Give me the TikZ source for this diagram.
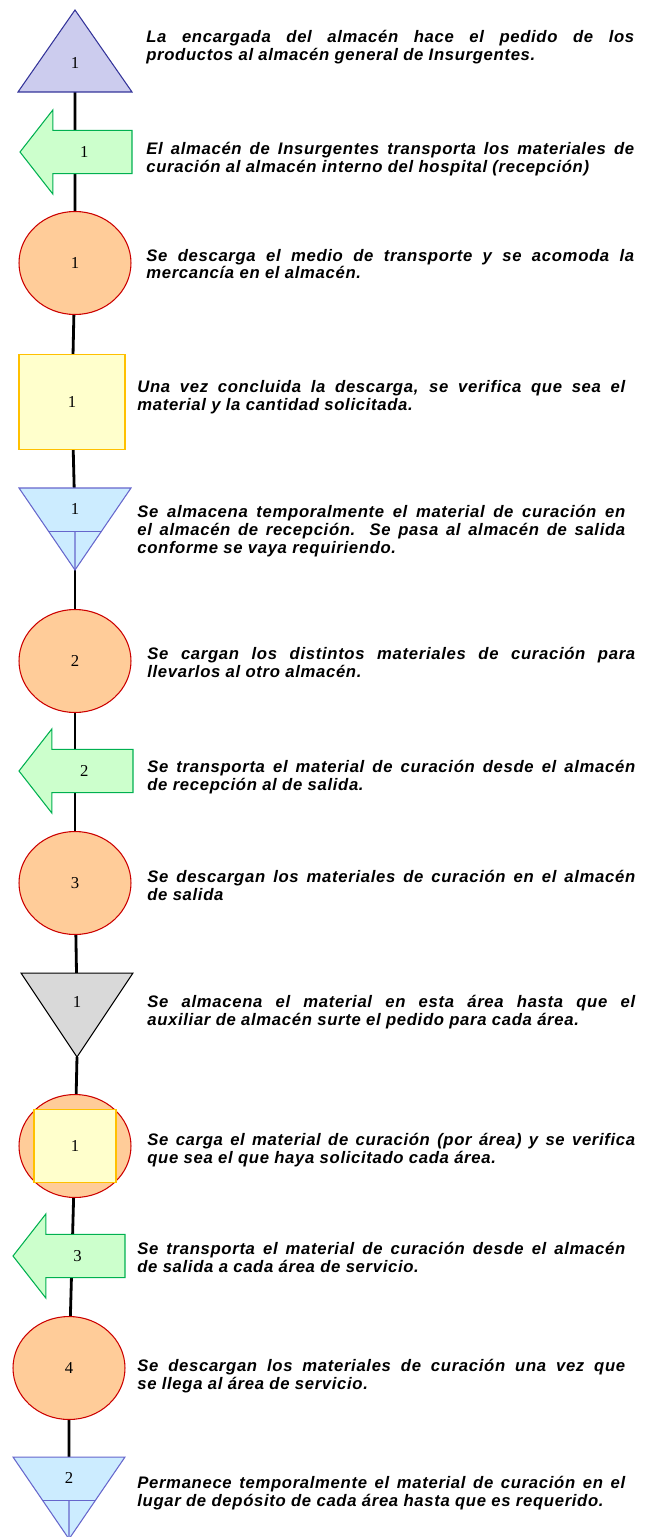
\documentclass[tikz,border=0pt]{standalone}
\usepackage{fontspec}
\setmainfont{Liberation Serif}
\newfontfamily\descfont{Liberation Sans}[LetterSpace=4]
\usetikzlibrary{shapes.geometric,shapes.arrows,calc,backgrounds}
\hyphenpenalty=10000
\exhyphenpenalty=10000

\definecolor{lavanda}{RGB}{204,204,238}
\definecolor{lavandaborde}{RGB}{51,51,153}
\definecolor{verdeclaro}{RGB}{204,255,204}
\definecolor{verdeborde}{RGB}{0,176,80}
\definecolor{durazno}{RGB}{255,204,153}
\definecolor{rojoborde}{RGB}{204,0,0}
\definecolor{amarilloclaro}{RGB}{255,255,204}
\definecolor{amarilloborde}{RGB}{255,192,0}
\definecolor{celeste}{RGB}{204,236,255}
\definecolor{celesteborde}{RGB}{102,102,204}
\definecolor{grisclaro}{RGB}{217,217,217}

\tikzstyle{base} = [inner sep=0pt, outer sep=0pt, line width=0.6pt, font=\fontsize{9.5}{10}\selectfont]
\tikzstyle{operacion} = [base, ellipse, minimum width=2.24cm, minimum height=2.06cm, fill=durazno, draw=rojoborde]
\tikzstyle{inspeccion} = [base, rectangle, minimum width=2.12cm, minimum height=1.9cm, fill=amarilloclaro, draw=amarilloborde]
\tikzstyle{transporte} = [base, single arrow, shape border rotate=180, minimum height=2.24cm, inner ysep=0.31cm, single arrow head extend=0.41cm, single arrow tip angle=104, fill=verdeclaro, draw=verdeborde]
\tikzstyle{pedido} = [base, isosceles triangle, isosceles triangle stretches, shape border rotate=90, minimum width=2.28cm, minimum height=1.64cm, fill=lavanda, draw=lavandaborde]
\tikzstyle{almacen} = [base, isosceles triangle, isosceles triangle stretches, shape border rotate=-90, minimum width=2.24cm, minimum height=1.64cm, fill=celeste, draw=celesteborde]
\tikzstyle{temporal} = [almacen, text depth=0.45cm]
\tikzstyle{deposito} = [almacen, fill=grisclaro, draw=black]
\tikzstyle{desc} = [inner sep=0pt, anchor=west, text width=9.76cm, align=justify, font=\fontsize{9.5}{10.2}\descfont\bfseries\itshape]
\tikzstyle{linea} = [line width=1.6pt]

\begin{document}
\begin{tikzpicture}[x=0.02cm, y=-0.02cm]
        \useasboundingbox (0,0) rectangle (655,1537);

            \node (t1) [pedido, anchor=apex] at (75,10) {1};
            \node (a1) [transporte, anchor=tip] at (20,152) {1};
            \node (c1) [operacion] at (75,263) {1};
            \node (s1) [inspeccion] at (72,402) {1};
            \node (v1) [temporal, anchor=apex] at (75,570) {1};
            \node (c2) [operacion] at (75,661) {2};
            \node (a2) [transporte, anchor=tip, minimum height=2.28cm] at (19,771) {2};
            \node (c3) [operacion] at (75,883) {3};
            \node (g1) [deposito, anchor=apex, minimum height=1.68cm] at (77,1057) {1};
            \node (cs1o) [operacion] at (75,1146) {};
            \node (cs1) [inspeccion, minimum width=1.64cm, minimum height=1.46cm] at (75,1146) {1};
            \node (a3) [transporte, anchor=tip] at (13,1256) {3};
            \node (c4) [operacion] at (69,1368) {4};
            \node (v2) [temporal, anchor=apex] at (69,1539) {2};

            \draw [celesteborde, line width=0.6pt] ($(v1.apex)!0.475!(v1.left corner)$) -- ($(v1.apex)!0.475!(v1.right corner)$);
            \draw [celesteborde, line width=0.6pt] ($(v1.apex)!0.475!(v1.lower side)$) -- (v1.apex);
            \draw [celesteborde, line width=0.6pt] ($(v2.apex)!0.475!(v2.left corner)$) -- ($(v2.apex)!0.475!(v2.right corner)$);
            \draw [celesteborde, line width=0.6pt] ($(v2.apex)!0.475!(v2.lower side)$) -- (v2.apex);

            \begin{scope}[on background layer]
                \draw [linea] (t1) -- (c1);
                \draw [linea] (c1) -- (s1);
                \draw [linea] (s1) -- (v1);
                \draw [linea] (v1.apex) -- (c2);
                \draw [linea] (c2) -- (c3);
                \draw [linea] (c3) -- (g1);
                \draw [linea] (g1.apex) -- (cs1o);
                \draw [linea] (cs1o) -- (c4);
                \draw [linea] (c4) -- (v2);
            \end{scope}

            \node (d1) [desc] at (146,47) {La encargada del almacén hace el pedido de los\linebreak productos al almacén general de Insurgentes.};
            \node (d2) [desc] at (146,159) {El almacén de Insurgentes transporta los materiales de\linebreak curación al almacén interno del hospital (recepción)};
            \node (d3) [desc] at (146,264) {Se descarga el medio de transporte y se acomoda la\linebreak mercancía en el almacén.};
            \node (d4) [desc] at (137,397) {Una vez concluida la descarga, se verifica que sea el\linebreak material y la cantidad solicitada.};
            \node (d5) [desc] at (137,531) {Se almacena temporalmente el material de curación en\linebreak el almacén de recepción. Se pasa al almacén de salida\linebreak conforme se vaya requiriendo.};
            \node (d6) [desc] at (147,662) {Se cargan los distintos materiales de curación para\linebreak llevarlos al otro almacén.};
            \node (d7) [desc] at (147,777) {Se transporta el material de curación desde el almacén\linebreak de recepción al de salida.};
            \node (d8) [desc] at (147,885) {Se descargan los materiales de curación en el almacén\linebreak de salida};
            \node (d9) [desc] at (147,1012) {Se almacena el material en esta área hasta que el\linebreak auxiliar de almacén surte el pedido para cada área.};
            \node (d10) [desc] at (147,1150) {Se carga el material de curación (por área) y se verifica\linebreak que sea el que haya solicitado cada área.};
            \node (d11) [desc] at (137,1257) {Se transporta el material de curación desde el almacén\linebreak de salida a cada área de servicio.};
            \node (d12) [desc] at (137,1376) {Se descargan los materiales de curación una vez que\linebreak se llega al área de servicio.};
            \node (d13) [desc] at (137,1493) {Permanece temporalmente el material de curación en el\linebreak lugar de depósito de cada área hasta que es requerido.};

\end{tikzpicture}
\end{document}
